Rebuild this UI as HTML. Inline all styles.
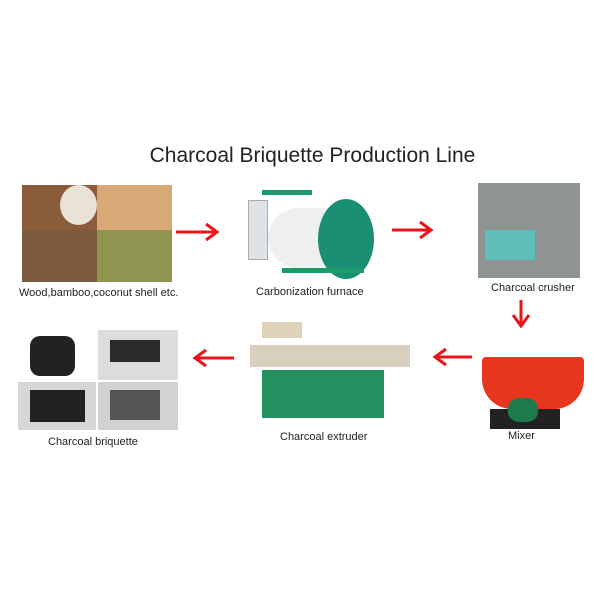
<!DOCTYPE html>
<html><head><style>
body{margin:0;width:600px;height:600px;background:#fff;position:relative;overflow:hidden;font-family:"Liberation Sans",sans-serif}
div{position:absolute}
.t{font-size:11px;color:#222;white-space:nowrap}
</style></head><body>
<div style="left:140px;top:144px;width:345px;text-align:center;font-size:21px;color:#222">Charcoal Briquette Production Line</div>

<!-- materials -->
<div style="left:22px;top:185px;width:75px;height:45px;background:#8a5c3a"></div>
<div style="left:60px;top:185px;width:37px;height:40px;background:#e9e2d6;border-radius:50%"></div>
<div style="left:97px;top:185px;width:75px;height:45px;background:#d9a877"></div>
<div style="left:22px;top:230px;width:75px;height:52px;background:#7b5a3e"></div>
<div style="left:97px;top:230px;width:75px;height:52px;background:#8f9550"></div>
<div class="t" style="left:19px;top:287px">Wood,bamboo,coconut shell etc.</div>

<svg width="600" height="600" style="position:absolute;left:0;top:0">
<g stroke="#e8141a" stroke-width="3" fill="none">
<path d="M176 232H216M206 224L217 232L206 240"/>
<path d="M392 230H430M420 222L431 230L420 238"/>
<path d="M521 300V325M513 315L521 326L529 315"/>
<path d="M472 357H436M446 349L435 357L446 365"/>
<path d="M234 358H196M206 350L195 358L206 366"/>
</g>
</svg>

<!-- furnace -->
<div style="left:248px;top:200px;width:18px;height:58px;background:#dde3e6;border:1px solid #aaa"></div>
<div style="left:262px;top:190px;width:50px;height:5px;background:#1c9a6a"></div>
<div style="left:268px;top:208px;width:75px;height:60px;background:#eef0ef;border-radius:30px 0 0 30px"></div>
<div style="left:318px;top:199px;width:56px;height:80px;background:#1a8f74;border-radius:50%"></div>
<div style="left:282px;top:268px;width:82px;height:5px;background:#1c9a6a"></div>
<div class="t" style="left:256px;top:286px">Carbonization furnace</div>

<!-- crusher -->
<div style="left:478px;top:183px;width:102px;height:95px;background:#8e9492"></div>
<div style="left:485px;top:230px;width:50px;height:30px;background:#5ebfb8"></div>
<div class="t" style="left:491px;top:282px">Charcoal crusher</div>

<!-- mixer -->
<div style="left:482px;top:357px;width:102px;height:52px;background:#e8361e;border-radius:4px 4px 30px 30px"></div>
<div style="left:490px;top:409px;width:70px;height:20px;background:#222"></div>
<div style="left:508px;top:398px;width:30px;height:24px;background:#1e7a4c;border-radius:40%"></div>
<div class="t" style="left:508px;top:430px">Mixer</div>

<!-- extruder -->
<div style="left:262px;top:322px;width:40px;height:16px;background:#e0d3bc"></div>
<div style="left:250px;top:345px;width:160px;height:22px;background:#d9cfbf"></div>
<div style="left:262px;top:370px;width:122px;height:48px;background:#23905f"></div>
<div class="t" style="left:280px;top:431px">Charcoal extruder</div>

<!-- briquettes -->
<div style="left:18px;top:330px;width:78px;height:50px;background:#fff"></div>
<div style="left:30px;top:336px;width:45px;height:40px;background:#222;border-radius:10px"></div>
<div style="left:98px;top:330px;width:80px;height:50px;background:#dcdcdc"></div>
<div style="left:18px;top:382px;width:78px;height:48px;background:#d6d6d6"></div>
<div style="left:98px;top:382px;width:80px;height:48px;background:#d2d2d2"></div>
<div style="left:30px;top:390px;width:55px;height:32px;background:#222"></div>
<div style="left:110px;top:340px;width:50px;height:22px;background:#2a2a2a"></div>
<div style="left:110px;top:390px;width:50px;height:30px;background:#555"></div>
<div class="t" style="left:48px;top:436px">Charcoal briquette</div>
</body></html>
